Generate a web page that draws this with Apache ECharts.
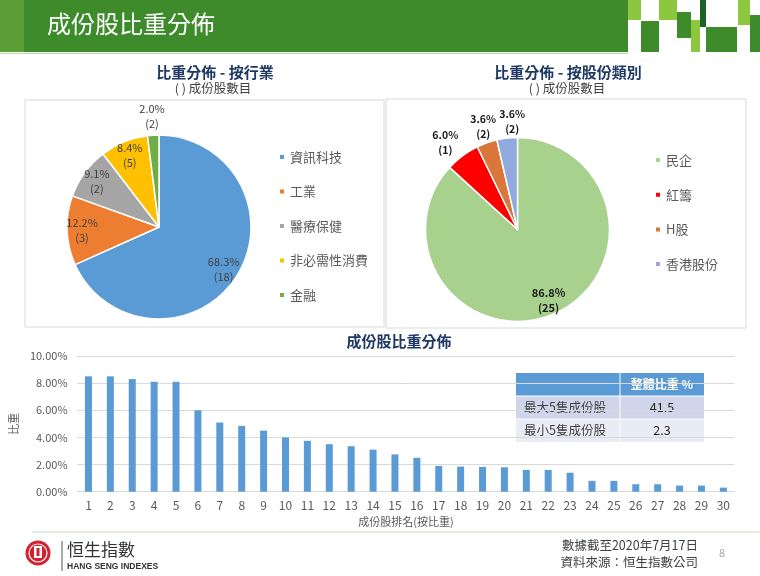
<!DOCTYPE html>
<html><head><meta charset="utf-8">
<script src="https://cdn.jsdelivr.net/npm/echarts@6/dist/echarts.min.js"></script>
<style>html,body{margin:0;padding:0;background:#fff}#c{width:760px;height:576px}</style>
</head><body><div id="c"></div>
<script>
// ---- data ----
const pageTitle = '成份股比重分佈';
const sectorTitle = '比重分佈 - 按行業';
const typeTitle = '比重分佈 - 按股份類別';
const pieSubtitle = '( ) 成份股數目';
const sectorNames = ['資訊科技', '工業', '醫療保健', '非必需性消費', '金融'];
const sectorWeights = [68.3, 12.2, 9.1, 8.4, 2.0];
const sectorCounts = [18, 3, 2, 5, 2];
const typeNames = ['民企', '紅籌', 'H股', '香港股份'];
const typeWeights = [86.8, 6.0, 3.6, 3.6];
const typeCounts = [25, 1, 2, 2];
const barTitle = '成份股比重分佈';
const rankCategories = ['1','2','3','4','5','6','7','8','9','10','11','12','13','14','15','16','17','18','19','20','21','22','23','24','25','26','27','28','29','30'];
const rankWeights = [8.5, 8.5, 8.3, 8.1, 8.1, 6.0, 5.1, 4.85, 4.5, 4.0, 3.75, 3.5, 3.35, 3.1, 2.75, 2.5, 1.9, 1.85, 1.83, 1.8, 1.6, 1.6, 1.4, 0.8, 0.8, 0.55, 0.55, 0.45, 0.45, 0.3];
const yAxisName = '比重';
const xAxisName = '成份股排名(按比重)';
const tableHeader = '整體比重 %';
const tableLabels = ['最大5隻成份股', '最小5隻成份股'];
const tableValues = ['41.5', '2.3'];
const logoCn = '恒生指數';
const logoEn = 'HANG SENG INDEXES';
const footerDate = '數據截至2020年7月17日';
const footerSource = '資料來源：恒生指數公司';
const pageNumber = '8';

// ---- styles ----
const FONT = "'Noto Sans CJK TC', 'Noto Sans', sans-serif";
const sectorColors = ['#5b9bd5', '#ed7d31', '#a5a5a5', '#ffc000', '#70ad47'];
const typeColors = ['#a9d18e', '#ff0000', '#d9773a', '#8faadc'];
const typeOuterLabelPadding = [[0, 0, 0, 0], [0, 14, 10, 0], [0, 0, 0, 4], [0, 0, 0, 14]];
const OUTSIDE_BELOW = 7;
const leftC = [159, 227], rightC = [517.5, 229.5], R = 92;

function pieData(names, vals, colors) {
  return names.map((n, i) => ({ name: n, value: vals[i], itemStyle: { color: colors[i] } }));
}
function labelData(names, vals, counts, outside, paddings) {
  return names.map((n, i) => ({
    name: n, value: vals[i], count: counts[i],
    label: Object.assign({ show: outside ? vals[i] < OUTSIDE_BELOW : vals[i] >= OUTSIDE_BELOW },
      paddings ? { padding: paddings[i] } : {})
  }));
}
function basePie(center, data) {
  return {
    type: 'pie', center: center, radius: R, startAngle: 90, clockwise: true, silent: true,
    label: { show: false }, labelLine: { show: false },
    itemStyle: { borderColor: '#fff', borderWidth: 1.5 },
    emphasis: { disabled: true }, data: data
  };
}
function labelPie(center, radius, data, style) {
  return {
    type: 'pie', center: center, radius: radius, startAngle: 90, clockwise: true, silent: true,
    itemStyle: { color: 'rgba(0,0,0,0)', borderWidth: 0 },
    labelLine: { show: false }, emphasis: { disabled: true },
    labelLayout: { hideOverlap: false },
    avoidLabelOverlap: false,
    label: Object.assign({
      position: 'inside', fontFamily: FONT, fontSize: 11, lineHeight: 15,
      formatter: p => p.value.toFixed(1) + '%\n(' + p.data.count + ')'
    }, style),
    data: data
  };
}

const leftLabelStyle = { color: '#404040', fontWeight: 'normal' };
const rightLabelStyle = { color: '#1a1a1a', fontWeight: 'bold' };

const gfx = [];
function rect(x, y, w, h, fill, extra) { gfx.push(Object.assign({ type: 'rect', silent: true, shape: { x, y, width: w, height: h }, style: { fill } }, extra || {})); }
function text(x, y, t, st) { gfx.push({ type: 'text', silent: true, style: Object.assign({ x, y, text: t, fontFamily: FONT, verticalAlign: 'middle' }, st) }); }
function line(x1, y1, x2, y2, stroke, w) { gfx.push({ type: 'line', silent: true, shape: { x1, y1, x2, y2 }, style: { stroke, lineWidth: w || 1 } }); }

// header
const LG = '#8dc63f', DG = '#3e8b2c', VDG = '#1d6327';
rect(0, 0, 24, 52, '#5a9e35');
rect(24, 0, 604, 52, DG);
line(0, 53.5, 628, 53.5, '#b8d9a0', 1);
text(47, 24, pageTitle, { fill: '#fff', fontSize: 24 });
rect(628, 0, 13, 20, LG);
rect(641, 21, 18, 31, DG);
rect(659, 0, 18, 20, LG);
rect(677, 12, 14, 26, DG);
rect(691, 20, 9, 32, LG);
rect(700, 0, 6, 27, VDG);
rect(706, 27, 31, 25, DG);
rect(738, 0, 12, 25, LG);
rect(750, 15, 10, 37, DG);

// panels
rect(25, 100, 359, 227, 'none', { style: { fill: 'none', stroke: '#d9d9d9', lineWidth: 1 } });
rect(386, 99, 360, 229, 'none', { style: { fill: 'none', stroke: '#d9d9d9', lineWidth: 1 } });

// titles
text(215, 72, sectorTitle, { fill: '#1f3864', fontSize: 15, fontWeight: 'bold', align: 'center' });
text(213, 88, pieSubtitle, { fill: '#404040', fontSize: 12.5, align: 'center' });
text(568, 72, typeTitle, { fill: '#1f3864', fontSize: 15, fontWeight: 'bold', align: 'center' });
text(567, 88, pieSubtitle, { fill: '#404040', fontSize: 12.5, align: 'center' });
text(399, 341, barTitle, { fill: '#1f3864', fontSize: 15, fontWeight: 'bold', align: 'center' });

// table
const tx = 516, tc = 620, tr = 704, ty = 373, rh = 23;
rect(tx, ty, tr - tx, rh, '#5b9bd5');
text((tc + tr) / 2, ty + rh / 2, tableHeader, { fill: '#fff', fontSize: 12, fontWeight: 'bold', align: 'center' });
const rowFills = ['#cfd5ea', '#e9ebf5'];
tableLabels.forEach((lab, i) => {
  const y = ty + rh * (i + 1);
  rect(tx, y, tr - tx, rh, rowFills[i]);
  text(tx + 8, y + rh / 2, lab, { fill: '#404040', fontSize: 12.5 });
  text((tc + tr) / 2, y + rh / 2, tableValues[i], { fill: '#262626', fontSize: 12.5, align: 'center' });
  line(tx, y, tr, y, '#fff', 1);
});
line(tc, ty, tc, ty + rh * 3, '#fff', 1);

// footer
line(32, 532, 760, 532, '#c9dcb8', 1);
gfx.push({ type: 'circle', silent: true, shape: { cx: 38, cy: 553, r: 12.5 }, style: { fill: '#d6202e' } });
gfx.push({ type: 'circle', silent: true, shape: { cx: 38, cy: 553, r: 9 }, style: { fill: 'none', stroke: '#fff', lineWidth: 1.2 } });
rect(34, 546, 8, 12, '#fff');
rect(36.5, 548, 3, 8, '#d6202e');
line(62, 541, 62, 571, '#555', 1);
text(67, 550, logoCn, { fill: '#333', fontSize: 17 });
text(67, 566.5, logoEn, { fill: '#333', fontSize: 8.5, fontWeight: 'bold', fontFamily: "'Liberation Sans Narrow', 'Liberation Sans', sans-serif" });
text(698, 545, footerDate, { fill: '#404040', fontSize: 12.5, align: 'right' });
text(698, 562, footerSource, { fill: '#404040', fontSize: 12.5, align: 'right' });
text(722, 553, pageNumber, { fill: '#a6a6a6', fontSize: 11, align: 'center' });

const legendText = { fontFamily: FONT, fontSize: 13, color: '#595959', lineHeight: 14 };

const option = {
  animation: false,
  textStyle: { fontFamily: FONT },
  legend: [
    { data: sectorNames, orient: 'vertical', left: 273, top: 145, padding: 5, icon: 'rect', itemWidth: 6, itemHeight: 6, itemGap: 20.5, textStyle: legendText, selectedMode: false },
    { data: typeNames, orient: 'vertical', left: 649, top: 148, padding: 5, icon: 'rect', itemWidth: 6, itemHeight: 6, itemGap: 20.7, textStyle: legendText, selectedMode: false }
  ],
  grid: { left: 74, right: 25.7, top: 356, bottom: 84.3, containLabel: false },
  xAxis: {
    type: 'category', data: rankCategories,
    axisTick: { show: false }, axisLine: { lineStyle: { color: '#d9d9d9' } },
    axisLabel: { color: '#595959', fontSize: 12, margin: 8 },
    name: xAxisName, nameLocation: 'middle', nameGap: 25, nameTextStyle: { color: '#595959', fontSize: 11 }
  },
  yAxis: {
    type: 'value', min: 0, max: 10, interval: 2,
    axisLine: { show: false }, axisTick: { show: false },
    splitLine: { lineStyle: { color: '#d9d9d9' } },
    axisLabel: { color: '#595959', fontSize: 11, margin: 10, formatter: v => v.toFixed(2) + '%' },
    name: yAxisName, nameLocation: 'middle', nameGap: 56, nameRotate: 90, nameTextStyle: { color: '#595959', fontSize: 11 }
  },
  series: [
    { type: 'bar', data: rankWeights, barWidth: 7, itemStyle: { color: '#5b9bd5' }, silent: true },
    basePie(leftC, pieData(sectorNames, sectorWeights, sectorColors)),
    basePie(rightC, pieData(typeNames, typeWeights, typeColors)),
    labelPie(leftC, [56, R], labelData(sectorNames, sectorWeights, sectorCounts, false), leftLabelStyle),
    labelPie(leftC, [98, 118], labelData(sectorNames, sectorWeights, sectorCounts, true), leftLabelStyle),
    labelPie(rightC, [56, R], labelData(typeNames, typeWeights, typeCounts, false), rightLabelStyle),
    labelPie(rightC, [96, 116], labelData(typeNames, typeWeights, typeCounts, true, typeOuterLabelPadding), Object.assign({ fontSize: 10.5 }, rightLabelStyle))
  ],
  graphic: gfx
};
const chart = echarts.init(document.getElementById('c'), null, { renderer: 'canvas' });
chart.setOption(option);
</script>
</body></html>
